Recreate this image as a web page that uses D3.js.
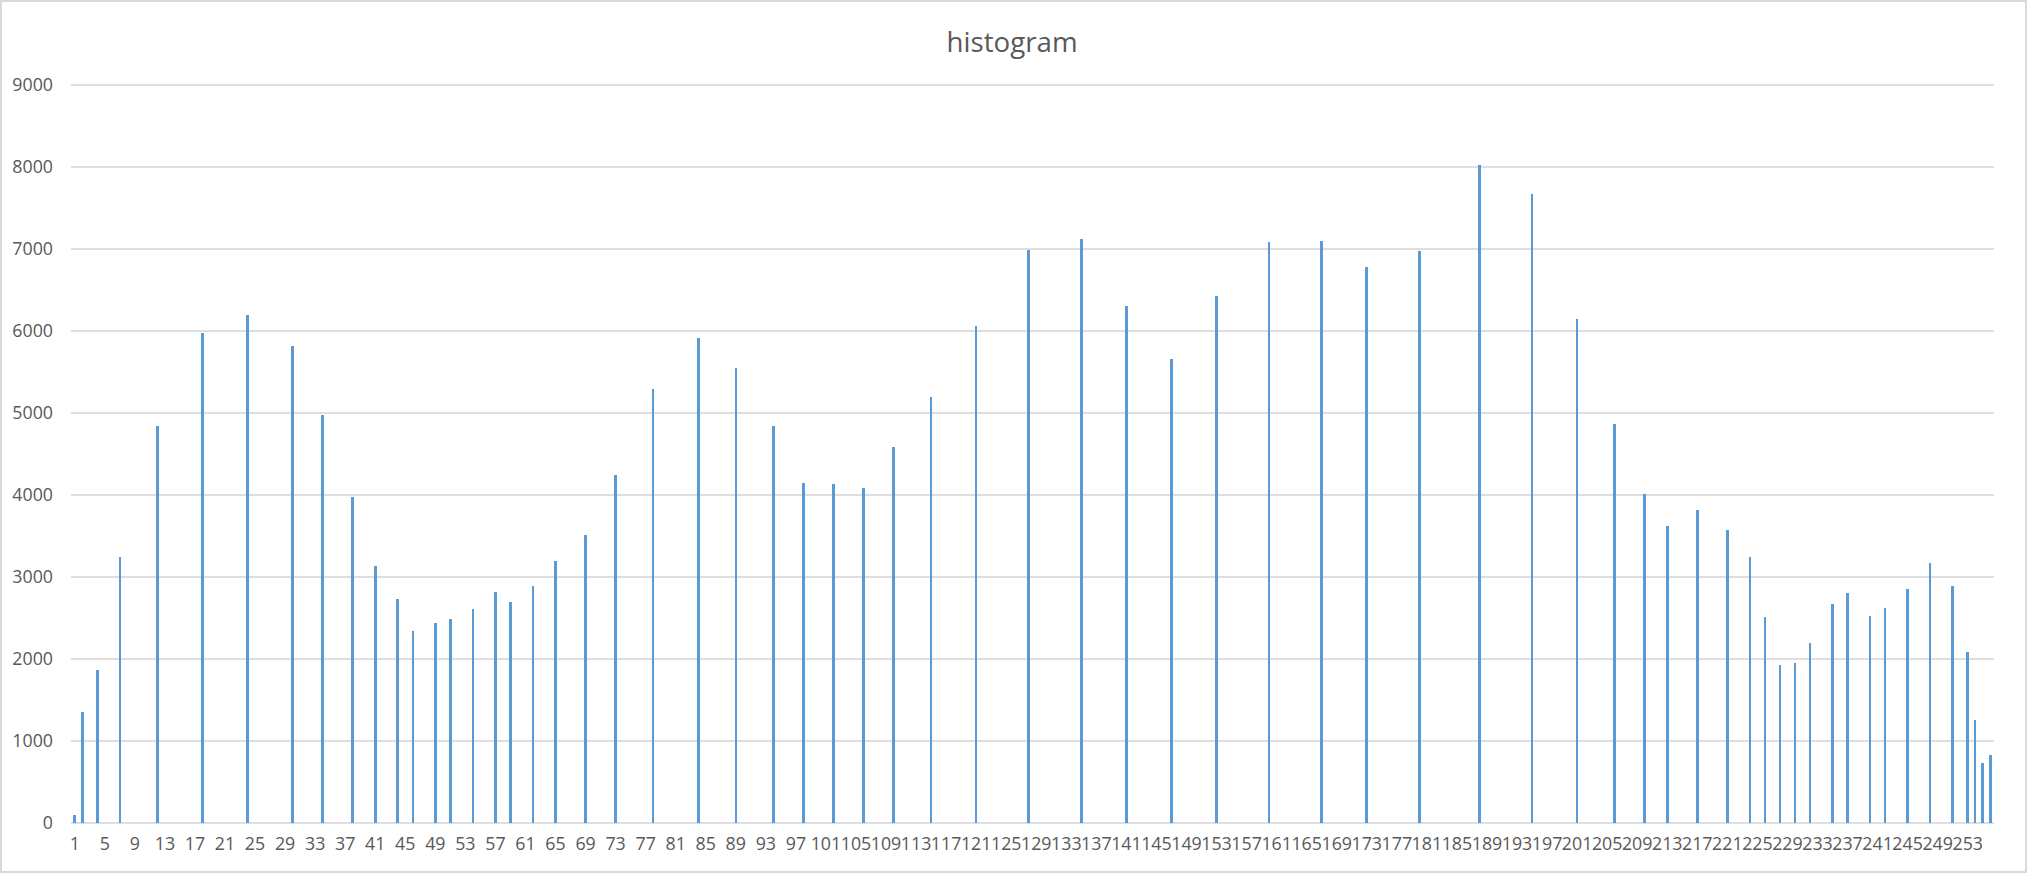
<!DOCTYPE html>
<html>
<head>
<meta charset="utf-8">
<script src="https://cdn.jsdelivr.net/npm/d3@7"></script>
<style>
  html, body { margin: 0; padding: 0; background: #fff; }
  svg { display: block; }
  text { font-family: 'Open Sans', sans-serif; fill: #595959; }
</style>
</head>
<body>
<svg id="chart"></svg>
<script>
// non-empty bins of the histogram (all other bins are 0)
const bins = [1, 2, 4, 7, 12, 18, 24, 30, 34, 38, 41, 44, 46, 49, 51, 54, 57, 59,
  62, 65, 69, 73, 78, 84, 89, 94, 98, 102, 106, 110, 115, 121, 128,
  135, 141, 147, 153, 160, 167, 173, 180, 188, 195,
  201, 206, 210, 213, 217, 221, 224, 226, 228, 230, 232, 235, 237, 240, 242, 245, 248, 251, 253, 254, 255, 256]
const counts = [100, 1350, 1860, 3245, 4840, 5970, 6200, 5820, 4970, 3970, 3135, 2735, 2345, 2440, 2490, 2610, 2815, 2695,
  2890, 3195, 3515, 4250, 5290, 5910, 5550, 4840, 4150, 4130, 4090, 4580, 5200, 6060, 6990,
  7120, 6310, 5660, 6430, 7080, 7100, 6780, 6980, 8020, 7670,
  6150, 4870, 4010, 3620, 3820, 3570, 3250, 2510, 1930, 1950, 2190, 2670, 2800, 2530, 2620, 2850, 3170, 2890, 2090, 1260, 730, 830]
const categories = d3.range(1, 257)
const yTicks = d3.range(0, 9001, 1000)
const title = 'histogram'

const width = 2034
const height = 874
const margin = { top: 85, right: 40, bottom: 51, left: 71 }

const svg = d3.select('#chart')
  .attr('width', width)
  .attr('height', height)

// chart frame
svg.append('rect')
  .attr('x', 1).attr('y', 1)
  .attr('width', 2025).attr('height', 871)
  .attr('fill', '#fff')
  .attr('stroke', '#d9d9d9')
  .attr('stroke-width', 2)

const x = d3.scaleBand()
  .domain(categories)
  .range([margin.left, 1994])
  .paddingInner(0.66)
  .paddingOuter(0.33)

const y = d3.scaleLinear()
  .domain([0, 9000])
  .range([823, margin.top])

// gridlines
svg.append('g')
  .selectAll('line')
  .data(yTicks)
  .enter().append('line')
  .attr('x1', margin.left)
  .attr('x2', 1994)
  .attr('y1', d => y(d))
  .attr('y2', d => y(d))
  .attr('stroke', '#d4d4d4')
  .attr('stroke-width', 1.6)

// y labels
const yAxis = svg.append('g')
  .attr('transform', `translate(${margin.left - 6},0)`)
  .call(d3.axisLeft(y).tickValues(yTicks).tickFormat(d3.format('d')).tickSize(0).tickPadding(12))
yAxis.select('.domain').remove()
yAxis.selectAll('text')
  .style('font-size', '17.8px')
  .style('font-family', "'Open Sans', sans-serif")
  .attr('fill', '#595959')

// bars
const data = bins.map((b, i) => ({ bin: b, count: counts[i] }))
svg.append('g')
  .selectAll('rect')
  .data(data)
  .enter().append('rect')
  .attr('x', d => x(d.bin))
  .attr('width', x.bandwidth())
  .attr('y', d => y(d.count))
  .attr('height', d => y(0) - y(d.count))
  .attr('fill', '#5b9bd5')
  .attr('shape-rendering', 'crispEdges')

// x labels, every 4th bin
const xAxis = svg.append('g')
  .attr('transform', 'translate(0,823)')
  .call(d3.axisBottom(x)
    .tickValues(categories.filter(c => (c - 1) % 4 === 0))
    .tickSize(0)
    .tickPadding(14))
xAxis.select('.domain').remove()
xAxis.selectAll('text')
  .style('font-size', '17.8px')
  .style('font-family', "'Open Sans', sans-serif")
  .attr('fill', '#595959')

// title
svg.append('text')
  .attr('x', 1012)
  .attr('y', 42)
  .attr('dy', '0.35em')
  .attr('text-anchor', 'middle')
  .style('font-size', '27.7px')
  .text(title)
</script>
</body>
</html>
